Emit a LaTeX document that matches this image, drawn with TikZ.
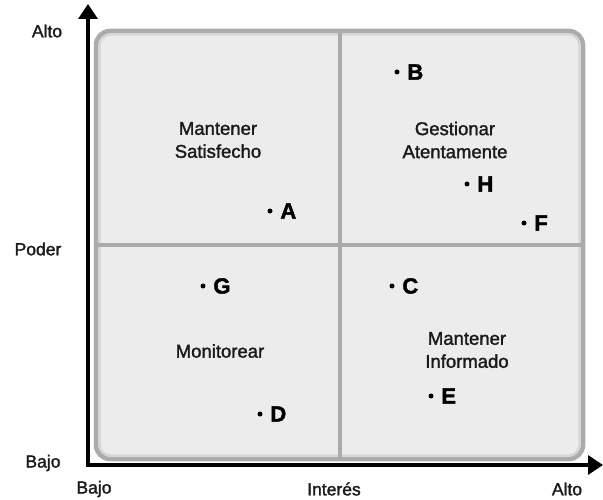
\documentclass[tikz,border=0pt]{standalone}
\usepackage{fontspec}
\setmainfont{Liberation Sans}[FakeStretch=1.0, FakeBold=1.6]
\newfontfamily\markfont{Liberation Sans Bold}[FakeStretch=1.0, FakeBold=1.8]
\usetikzlibrary{arrows.meta}
\definecolor{boxfill}{HTML}{ECECEC}
\definecolor{boxedge}{HTML}{ABABAB}
\definecolor{boxrim}{HTML}{D4D4D4}
\definecolor{ink}{HTML}{1A1A1A}
\tikzset{
  axis/.style={line width=3.4pt, draw=black},
  divider/.style={line width=4pt, draw=boxedge},
  axislabel/.style={font=\fontsize{17.5}{18}\selectfont, text=ink, inner sep=0pt},
  quadlabel/.style={font=\fontsize{18.5}{23}\selectfont, text=ink, align=center, inner sep=0pt},
  dotmark/.style={circle, fill=black, minimum size=5pt, inner sep=0pt},
  lettermark/.style={font=\markfont\fontsize{22}{22}\selectfont, text=black, inner sep=0pt, anchor=west},
  stake/.style={dotmark, label={[lettermark, label distance=7.5pt]right:#1}}
}
\begin{document}
\begin{tikzpicture}[x=1pt, y=-1pt]
\useasboundingbox (0,0) rectangle (603,500);

% quadrant panel
\draw[fill=boxfill, draw=boxedge, line width=4.5pt, rounded corners=14pt] (96,31) rectangle (583,459);
\draw[draw=boxrim, line width=2pt, rounded corners=11pt] (99.5,34.5) rectangle (579.5,455.5);
\draw[divider] (340,33) -- (340,457);
\draw[divider] (98,245) -- (581,245);

% axes
\coordinate (ytop) at (88,4);
\coordinate (O) at (88,465);
\coordinate (xend) at (603,465);
\draw[axis, {Triangle[length=15pt, width=19pt]}-{Triangle[length=15pt, width=19pt]}] (ytop) -- (O) -- (xend);

% axis labels
\node[axislabel] (alto-y) at (47,31) {Alto};
\node[axislabel] (poder) at (38,249) {Poder};
\node[axislabel] (bajo-y) at (43,463) {Bajo};
\node[axislabel] (bajo-x) at (94,489) {Bajo};
\node[axislabel] (interes) at (334,489) {Interés};
\node[axislabel] (alto-x) at (567,489) {Alto};

% quadrant names
\node[quadlabel] (q1) at (218,140) {Mantener\\Satisfecho};
\node[quadlabel] (q2) at (455,140) {Gestionar\\Atentamente};
\node[quadlabel] (q3) at (220,351) {Monitorear};
\node[quadlabel] (q4) at (467,350) {Mantener\\Informado};

% stakeholders
\node[stake=A] (A) at (270,211) {};
\node[stake=B] (B) at (397,72) {};
\node[stake=H] (H) at (467,184) {};
\node[stake=F] (F) at (524,223) {};
\node[stake=G] (G) at (203,286) {};
\node[stake=C] (C) at (392,286) {};
\node[stake=E] (E) at (431,396) {};
\node[stake=D] (D) at (260,414) {};
\end{tikzpicture}
\end{document}
